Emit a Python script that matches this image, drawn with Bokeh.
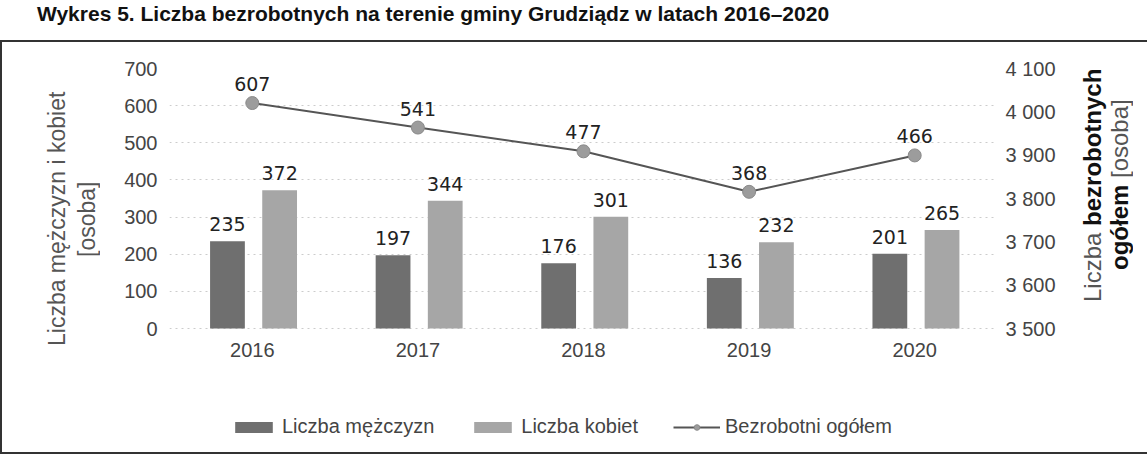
from bokeh.plotting import figure
from bokeh.models import (ColumnDataSource, FactorRange, Range1d, LinearAxis, LabelSet,
                          Legend, LegendItem, FixedTicker, Div, Row, Column)
from bokeh.core.properties import value
from bokeh.transform import dodge
from bokeh.embed import file_html
from bokeh.resources import INLINE

# ---- data ----
years = ["2016", "2017", "2018", "2019", "2020"]
men = [235, 197, 176, 136, 201]
women = [372, 344, 301, 232, 265]
total = [607, 541, 477, 368, 466]
left_ticks = [0, 100, 200, 300, 400, 500, 600, 700]
right_ticks = [3500, 3600, 3700, 3800, 3900, 4000, 4100]
right_tick_labels = ["3 500", "3 600", "3 700", "3 800", "3 900", "4 000", "4 100"]
title_text = "Wykres 5. Liczba bezrobotnych na terenie gminy Grudziądz w latach 2016–2020"
legend_labels = ["Liczba mężczyzn", "Liczba kobiet", "Bezrobotni ogółem"]
left_label_lines = ["Liczba mężczyzn i kobiet", "[osoba]"]

# ---- sizes ----
LDIVW, FW, RDIVW = 100, 962, 65
TOP, BOTTOM, FH = 26, 4, 400
PLOT_H = 260                      # pixels used by the 0..700 part of the scale
TITLE_H = 30
frame_h = FH - TOP - BOTTOM
y_hi = left_ticks[-1]
y_lo = y_hi - frame_h * (left_ticks[-1] - left_ticks[0]) / PLOT_H
k = (right_ticks[-1] - right_ticks[0]) / (left_ticks[-1] - left_ticks[0])
r_lo = right_ticks[0] + (y_lo - left_ticks[0]) * k
r_hi = right_ticks[-1]

p = figure(width=FW, height=FH, x_range=FactorRange(*years), y_range=Range1d(y_lo, y_hi),
           output_backend="svg", toolbar_location=None,
           min_border_left=57, min_border_right=77, min_border_top=TOP,
           min_border_bottom=BOTTOM)
p.extra_y_ranges = {"r": Range1d(r_lo, r_hi)}
p.outline_line_color = None

src = ColumnDataSource(dict(year=years, men=men, women=women, total=total,
                            men_l=[str(v) for v in men], women_l=[str(v) for v in women],
                            total_l=[str(v) for v in total]))

MEN_C, WOMEN_C = "#6f6f6f", "#a6a6a6"
r_men = p.vbar(x=dodge("year", -0.15, range=p.x_range), top="men", width=0.21, source=src,
               fill_color=MEN_C, line_color=None)
r_women = p.vbar(x=dodge("year", 0.165, range=p.x_range), top="women", width=0.21, source=src,
                 fill_color=WOMEN_C, line_color=None)
r_line = p.line(x="year", y="total", source=src, line_color="#555555", line_width=2)
r_pts = p.scatter(x="year", y="total", source=src, size=13, fill_color="#9c9c9c",
                  line_color="#8a8a8a")

lab_kw = dict(text_font=value("DejaVu Sans"), text_font_size="19px", text_color="#222222",
              text_align="center", text_baseline="bottom", source=src)
p.add_layout(LabelSet(x=dodge("year", -0.15, range=p.x_range), y="men", text="men_l",
                      y_offset=10, **lab_kw))
p.add_layout(LabelSet(x=dodge("year", 0.165, range=p.x_range), y="women", text="women_l",
                      y_offset=10, **lab_kw))
p.add_layout(LabelSet(x="year", y="total", text="total_l", y_offset=12, **lab_kw))

# axes
TICK_FONT = "Liberation Sans"
def style_axis(ax):
    ax.axis_line_color = None
    ax.major_tick_line_color = None
    ax.minor_tick_line_color = None
    ax.major_tick_out = 0
    ax.major_tick_in = 0
    ax.minor_tick_out = 0
    ax.minor_tick_in = 0
    ax.major_label_text_font = TICK_FONT
    ax.major_label_text_font_size = "20px"
    ax.major_label_text_color = "#444444"

style_axis(p.yaxis[0])
style_axis(p.xaxis[0])
p.yaxis.ticker = FixedTicker(ticks=left_ticks)
p.yaxis.major_label_standoff = 12
p.xaxis.fixed_location = 0
p.xaxis.major_label_standoff = 14

rax = LinearAxis(y_range_name="r", ticker=FixedTicker(ticks=right_ticks),
                 major_label_overrides={t: l for t, l in zip(right_ticks, right_tick_labels)})
style_axis(rax)
rax.major_label_standoff = 8
p.add_layout(rax, "right")

p.xgrid.grid_line_color = None
p.ygrid.ticker = FixedTicker(ticks=left_ticks)
p.ygrid.grid_line_color = "#cccccc"
p.ygrid.grid_line_dash = "2 4"

# legend (inside the lower, empty part of the frame)
legend = Legend(items=[LegendItem(label=legend_labels[0], renderers=[r_men]),
                       LegendItem(label=legend_labels[1], renderers=[r_women]),
                       LegendItem(label=legend_labels[2], renderers=[r_line, r_pts])],
                orientation="horizontal", location=(61, 0))
legend.label_text_font = TICK_FONT
legend.label_text_font_size = "20px"
legend.label_text_color = "#444444"
legend.glyph_width = 47
legend.glyph_height = 14
legend.spacing = 35
legend.label_standoff = 5
legend.padding = 0
legend.margin = 0
legend.border_line_color = None
legend.background_fill_alpha = 0
p.add_layout(legend, "center")

# axis titles as HTML text (the right one mixes weights)
left_label = Div(width=LDIVW, height=FH, text=(
    "<div style=\"writing-mode: vertical-rl; transform: rotate(180deg); "
    "font-family: 'Liberation Sans'; font-size: 23px; color: #555555; line-height: 30px; "
    "text-align: center; height: 344px; margin-left: 35px; white-space: nowrap;\">"
    + left_label_lines[0] + "<br>" + left_label_lines[1] + "</div>"))

right_label = Div(width=RDIVW, height=FH, text=(
    "<div style=\"writing-mode: vertical-rl; transform: rotate(180deg); "
    "font-family: 'Liberation Sans'; font-size: 24px; color: #555555; line-height: 27px; "
    "text-align: center; height: 276px; white-space: nowrap;\">"
    "Liczba <b style='color:#111111'>bezrobotnych</b><br>"
    "<b style='color:#111111'>ogółem</b> [osoba]</div>"))

title = Div(width=LDIVW + FW + RDIVW + 4, height=TITLE_H, text=(
    "<div style=\"font-family: 'Liberation Sans'; font-size: 21px; font-weight: bold; "
    "color: #111111; padding-left: 32px; margin-top: -6px; white-space: nowrap;\">"
    + title_text + "</div>"))

box = Row(children=[left_label, p, right_label], styles={"border": "2px solid #333333"})
layout = Column(children=[title, box])

open("out.html", "w").write(file_html(layout, INLINE))
